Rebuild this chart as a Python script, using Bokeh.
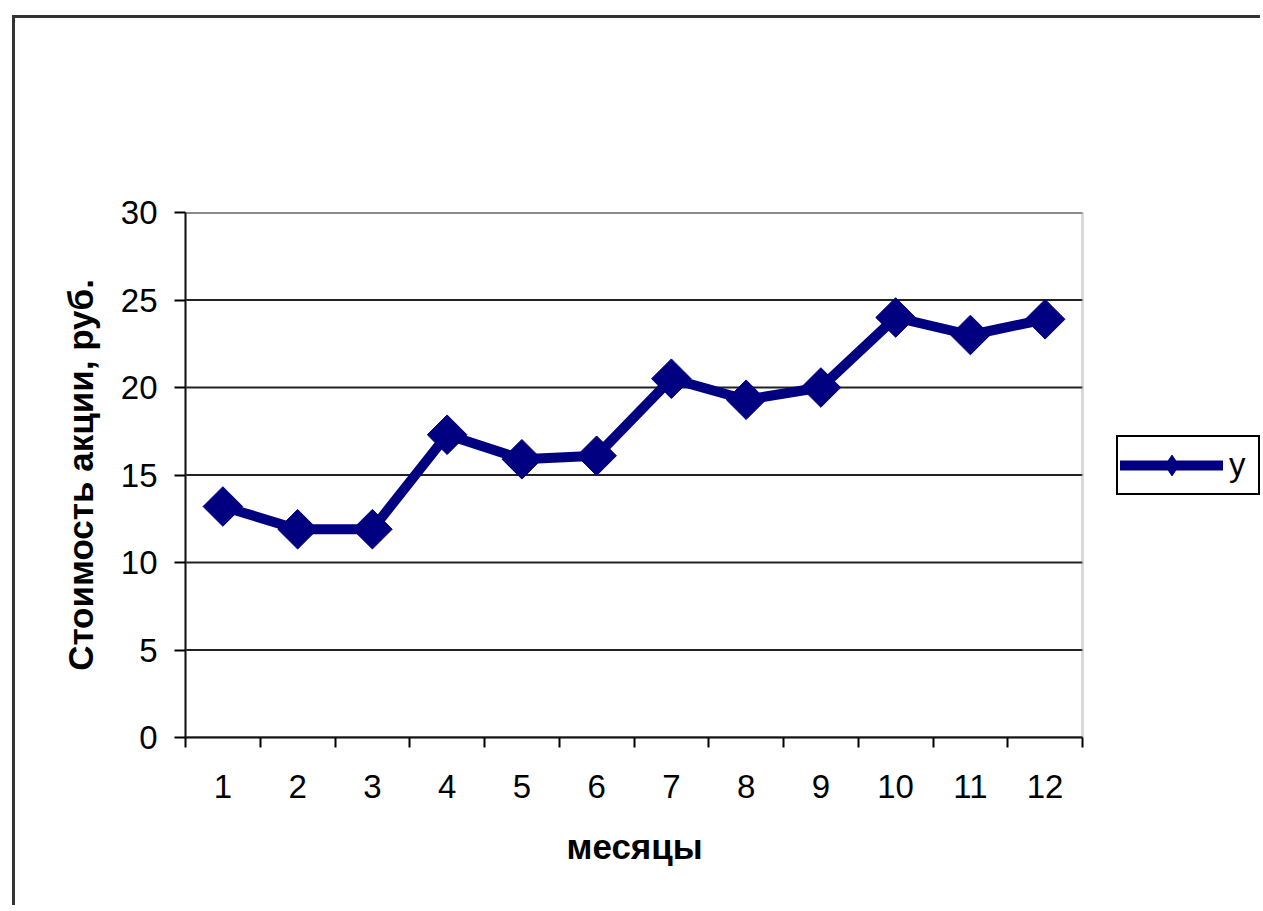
from bokeh.plotting import figure
from bokeh.models import (Range1d, FixedTicker, Legend, LegendItem, ColumnDataSource,
                          BoxAnnotation, Title)
from bokeh.embed import file_html
from bokeh.resources import INLINE
import math

# ---- data ----
months = [1, 2, 3, 4, 5, 6, 7, 8, 9, 10, 11, 12]
price = [13.2, 11.9, 11.9, 17.3, 15.9, 16.1, 20.5, 19.3, 20.0, 24.0, 23.0, 23.9]
y_ticks = [0, 5, 10, 15, 20, 25, 30]
series_name = "y"
x_title = "месяцы"
y_title = "Стоимость акции, руб."

NAVY = "#000080"
FONT = "Liberation Sans"

X0, X1 = months[0] - 0.5, months[-1] + 0.5
# plot area occupies 897 px of a 1078 px frame; the rest holds the legend
X_END = X0 + (X1 - X0) * 1078 / 897

src = ColumnDataSource(dict(x=months, y=price))
grid_src = ColumnDataSource(dict(x0=[X0] * len(y_ticks), x1=[X1] * len(y_ticks),
                                 y=y_ticks))

p = figure(width=1248, height=890, output_backend="svg", toolbar_location=None,
           x_range=Range1d(X0, X_END), y_range=Range1d(0, 30),
           min_border_left=170, min_border_right=0,
           min_border_top=194, min_border_bottom=171,
           background_fill_color="white", border_fill_color="white")

# outer chart border (runs off the right/bottom of the page)
p.styles = {"margin-left": "12px", "margin-top": "15px",
            "border-left": "3px solid #333333", "border-top": "3px solid #333333"}

p.outline_line_color = None
p.xgrid.visible = False
p.ygrid.visible = False

# horizontal gridlines limited to the plot area
p.segment(x0="x0", x1="x1", y0="y", y1="y", source=grid_src,
          line_color="#222222", line_width=2)

# plot-area border
p.add_layout(BoxAnnotation(left=X0, right=X1, bottom=0, top=30, fill_alpha=0,
                           line_color="#808080", line_width=3))

# y axis
ya = p.yaxis[0]
ya.ticker = FixedTicker(ticks=y_ticks)
ya.axis_line_color = "black"
ya.axis_line_width = 2
ya.major_tick_line_color = "black"
ya.major_tick_line_width = 2
ya.major_tick_out = 11
ya.major_tick_in = 0
ya.minor_tick_line_color = None
ya.major_label_text_font = FONT
ya.major_label_text_font_size = "33px"
ya.major_label_text_color = "black"
ya.major_label_standoff = 17
ya.axis_label = y_title
ya.axis_label_text_font = FONT
ya.axis_label_text_font_size = "35px"
ya.axis_label_text_font_style = "bold"
ya.axis_label_text_color = "black"
ya.axis_label_standoff = 18

# x axis: labels at category centres, tick marks between categories
xa = p.xaxis[0]
xa.bounds = (X0, X1)
xa.ticker = FixedTicker(ticks=months, minor_ticks=[m - 0.5 for m in months] + [X1])
xa.axis_line_color = "black"
xa.axis_line_width = 2
xa.major_tick_line_color = None
xa.major_tick_out = 10
xa.major_tick_in = 0
xa.minor_tick_line_color = "black"
xa.minor_tick_line_width = 2
xa.minor_tick_out = 10
xa.minor_tick_in = 0
xa.major_label_text_font = FONT
xa.major_label_text_font_size = "33px"
xa.major_label_text_color = "black"
xa.major_label_standoff = 27

# x axis title, centred under the plot area (not under the whole frame)
p.add_layout(Title(text=x_title, align="left", offset=381, standoff=48,
                   text_font=FONT, text_font_size="35px", text_font_style="bold",
                   text_color="black"), "below")

# series
leg_marker = p.scatter("x", "y", source=src, marker="diamond", size=1,
                       fill_color=NAVY, line_color=NAVY)
line_r = p.line("x", "y", source=src, line_color=NAVY, line_width=10,
                line_join="round", line_cap="round")
p.scatter("x", "y", source=src, marker="square", angle=math.pi / 4, size=28,
          fill_color=NAVY, line_color=NAVY, line_width=1)

legend = Legend(items=[LegendItem(label=series_name, renderers=[line_r, leg_marker])],
                location=(931, 242), orientation="vertical")
legend.border_line_color = "black"
legend.border_line_alpha = 1
legend.border_line_width = 2
legend.background_fill_color = "white"
legend.background_fill_alpha = 1
legend.padding = 2
legend.margin = 0
legend.spacing = 0
legend.glyph_width = 103
legend.glyph_height = 52
legend.label_standoff = 6
legend.label_width = 27
legend.label_text_font = FONT
legend.label_text_font_size = "33px"
legend.label_text_color = "black"
p.add_layout(legend, "center")

open("out.html", "w").write(file_html(p, INLINE))
